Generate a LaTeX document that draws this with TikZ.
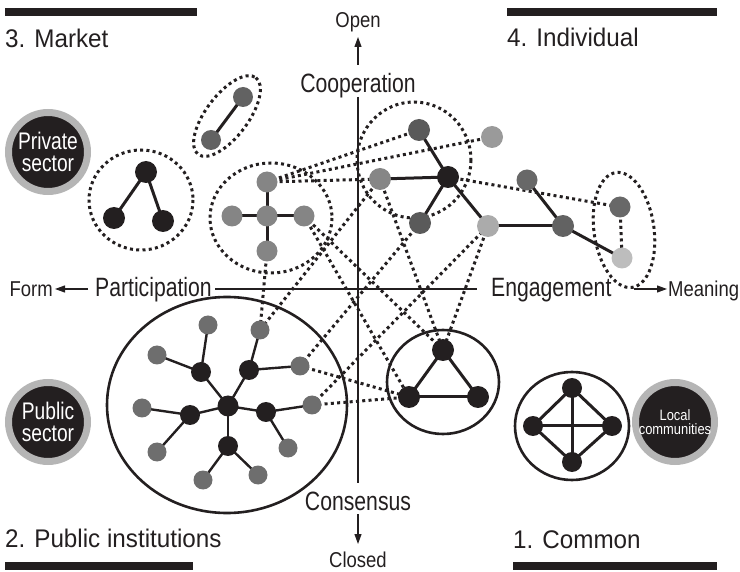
\documentclass[tikz,border=0pt]{standalone}
\usepackage{fontspec}
\setmainfont{Liberation Sans}
\newfontfamily\condfont{Liberation Sans}[FakeStretch=0.86]
\newfontfamily\narrowfont{Liberation Sans}[FakeStretch=0.8]
\newfontfamily\titlefont{Liberation Sans}[FakeStretch=0.95]
\usetikzlibrary{arrows.meta}
\pgfdeclarelayer{bg}
\pgfsetlayers{bg,main}
\definecolor{blk}{HTML}{231F20}
\definecolor{gcross}{HTML}{858585}
\definecolor{gpair}{HTML}{626262}
\definecolor{gdark}{HTML}{5A5A5A}
\definecolor{gmid}{HTML}{868686}
\definecolor{glightA}{HTML}{ABABAB}
\definecolor{glightB}{HTML}{9A9A9A}
\definecolor{gind}{HTML}{686868}
\definecolor{gpale}{HTML}{BDBDBD}
\definecolor{gleaf}{HTML}{6E6E6E}
\definecolor{ringgray}{HTML}{B5B5B5}
\begin{document}
\begin{tikzpicture}[x=1pt,y=-1pt,
  nd/.style={circle,fill=#1,minimum size=21pt,inner sep=0pt},
  sline/.style={line width=3pt,draw=blk},
  thinline/.style={line width=2.4pt,draw=blk},
  dotline/.style={line width=3pt,draw=blk,dash pattern=on 3pt off 3.3pt},
  ring/.style={line width=2.6pt,draw=blk},
  axis/.style={line width=1.1pt,draw=blk},
  axarrow/.style={line width=1.1pt,draw=blk,-{Triangle[length=10pt,width=7pt]}},
  bigdisc/.style={circle,fill=blk,draw=ringgray,line width=7pt,minimum size=79pt,inner sep=0pt,text=white,align=center},
  ttl/.style={font=\titlefont\fontsize{25.5}{26}\selectfont,inner sep=0pt,anchor=base west,text=blk},
  axlab/.style={font=\narrowfont\fontsize{26.5}{26}\selectfont,inner sep=0pt,text=blk},
  smlab/.style={font=\condfont\fontsize{21.5}{22}\selectfont,inner sep=0pt,text=blk},
  bar/.style={fill=blk}]
\useasboundingbox (0,0) rectangle (740,572);

% ---------- title bars and titles
\fill[bar] (5,8) rectangle (197,16);
\fill[bar] (507,8) rectangle (717,16);
\fill[bar] (5,562) rectangle (193,570);
\fill[bar] (513,562) rectangle (717,570);
\node[ttl] (t3) at (5,48) {3. Market};
\node[ttl] (t4) at (507,47) {4. Individual};
\node[ttl] (t2) at (5,547) {2. Public institutions};
\node[ttl] (t1) at (513,548) {1. Common};

% ---------- axis labels
\node[smlab,anchor=base] (open) at (358,28) {Open};
\node[axlab,anchor=base] (coop) at (358,93) {Cooperation};
\node[axlab,anchor=base] (cons) at (358,510) {Consensus};
\node[smlab,anchor=base] (closed) at (358,567) {Closed};
\node[axlab,anchor=base east] (part) at (212,297) {Participation};
\node[smlab,anchor=base east] (form) at (53,297) {Form};
\node[axlab,anchor=base west] (eng) at (491,297) {Engagement};
\node[smlab,anchor=base west] (mean) at (668,297) {Meaning};

\coordinate (vtop) at (358,97);
\coordinate (vbot) at (358,483);
\coordinate (hl) at (215,289);
\coordinate (hr) at (477,289);
\coordinate (upA) at (358,65);
\coordinate (upB) at (358,37);
\coordinate (dnA) at (358,514);
\coordinate (dnB) at (358,544);
\coordinate (lfA) at (88,289);
\coordinate (lfB) at (55,289);
\coordinate (rtA) at (634,289);
\coordinate (rtB) at (667,289);

% ---------- big discs
\node[bigdisc,font=\narrowfont\fontsize{24}{22}\selectfont] (PS) at (48,152) {Private\\sector};
\node[bigdisc,font=\narrowfont\fontsize{24}{22}\selectfont] (PU) at (48,422) {Public\\sector};
\node[bigdisc,font=\condfont\fontsize{15}{14}\selectfont] (LC) at (675,422) {Local\\communities};

% ---------- market pair
\node[nd=gpair,minimum size=20pt] (MA) at (243,97) {};
\node[nd=gpair,minimum size=20pt] (MB) at (211,140) {};
% market triangle
\node[nd=blk,minimum size=22pt] (MT) at (146,172) {};
\node[nd=blk,minimum size=22pt] (ML) at (114,218) {};
\node[nd=blk,minimum size=22pt] (MR) at (163,221) {};
% cross
\node[nd=gcross] (T) at (267,182) {};
\node[nd=gcross] (CC) at (267,216) {};
\node[nd=gcross] (CL) at (232,216) {};
\node[nd=gcross] (R) at (304,216) {};
\node[nd=gcross] (B) at (267,251) {};
% cooperation cluster
\node[nd=gdark,minimum size=22pt] (D1) at (419,130) {};
\node[nd=blk,minimum size=22pt] (K) at (448,177) {};
\node[nd=gmid,minimum size=22pt] (G1) at (380,179) {};
\node[nd=gdark,minimum size=22pt] (D2) at (420,223) {};
\node[nd=glightA,minimum size=22pt] (L1) at (488,226) {};
\node[nd=glightB,minimum size=22pt] (L2) at (492,137) {};
% individual cluster
\node[nd=gind] (I1) at (527,180) {};
\node[nd=gpair,minimum size=22pt] (I2) at (563,226) {};
\node[nd=gind] (I3) at (620,207) {};
\node[nd=gpale] (I4) at (622,258) {};
% triangle
\node[nd=blk,minimum size=22pt] (TT) at (443,350) {};
\node[nd=blk,minimum size=22pt] (BL) at (409,397) {};
\node[nd=blk,minimum size=22pt] (BR) at (478,397) {};
% diamond
\node[nd=blk,minimum size=20pt] (DT) at (572,388) {};
\node[nd=blk,minimum size=20pt] (DL) at (533,426) {};
\node[nd=blk,minimum size=20pt] (DR) at (612,426) {};
\node[nd=blk,minimum size=20pt] (DB) at (572,462) {};
% public institutions star
\node[nd=blk,minimum size=21pt] (C) at (228,406) {};
\node[nd=blk,minimum size=20pt] (UL) at (201,372) {};
\node[nd=blk,minimum size=20pt] (UR) at (249,370) {};
\node[nd=blk,minimum size=20pt] (LB) at (190,415) {};
\node[nd=blk,minimum size=20pt] (RB) at (266,412) {};
\node[nd=blk,minimum size=20pt] (BB) at (228,446) {};
\node[nd=gleaf,minimum size=19pt] (Q1) at (208,325) {};
\node[nd=gleaf,minimum size=19pt] (Q2) at (157,355) {};
\node[nd=gleaf,minimum size=19pt] (P1) at (260,330) {};
\node[nd=gleaf,minimum size=19pt] (P2) at (300,366) {};
\node[nd=gleaf,minimum size=19pt] (Q3) at (142,408) {};
\node[nd=gleaf,minimum size=19pt] (Q4) at (157,452) {};
\node[nd=gleaf,minimum size=19pt] (P3) at (312,405) {};
\node[nd=gleaf,minimum size=19pt] (Q5) at (288,448) {};
\node[nd=gleaf,minimum size=19pt] (Q6) at (203,480) {};
\node[nd=gleaf,minimum size=19pt] (Q7) at (258,475) {};

\begin{pgfonlayer}{bg}
% axes
\draw[axis] (vtop) -- (vbot);
\draw[axis] (hl) -- (hr);
\draw[axarrow] (upA) -- (upB);
\draw[axarrow] (dnA) -- (dnB);
\draw[axarrow] (lfA) -- (lfB);
\draw[axarrow] (rtA) -- (rtB);

% group outlines
\draw[dotline,rotate around={53:(227,116)}] (227,116) ellipse [x radius=48, y radius=21];
\draw[dotline] (141,200) ellipse [x radius=52, y radius=50];
\draw[dotline] (271,218) ellipse [x radius=61, y radius=55];
\draw[dotline] (414,160) ellipse [x radius=57, y radius=58];
\draw[dotline,rotate around={8:(624,230)}] (624,230) ellipse [x radius=30, y radius=58];
\draw[ring] (443,382) ellipse [x radius=56, y radius=52];
\draw[ring] (572,426) ellipse [x radius=57, y radius=54];
\draw[ring] (227,405) ellipse [x radius=120, y radius=108];

% dotted links
\foreach \a/\b in {T/D1,T/L2,T/G1,B/P1,G1/P1,G1/TT,R/TT,R/BL,P2/D2,P2/BL,P3/BL,P3/L1,L1/TT,K/I3,I3/I4}
  \draw[dotline] (\a.center) -- (\b.center);

% solid links
\foreach \a/\b in {MA/MB,MT/ML,MT/MR,CC/T,CC/CL,CC/R,CC/B,D1/K,G1/K,D2/K,K/L1,L1/I2,I1/I2,I2/I4,TT/BL,TT/BR,BL/BR,DT/DL,DL/DB,DB/DR,DR/DT,DT/DB,DL/DR}
  \draw[sline] (\a.center) -- (\b.center);
\foreach \a/\b in {C/UL,C/UR,C/LB,C/RB,C/BB,UL/Q1,UL/Q2,UR/P1,UR/P2,LB/Q3,LB/Q4,RB/P3,RB/Q5,BB/Q6,BB/Q7}
  \draw[thinline] (\a.center) -- (\b.center);
\end{pgfonlayer}
\end{tikzpicture}
\end{document}
